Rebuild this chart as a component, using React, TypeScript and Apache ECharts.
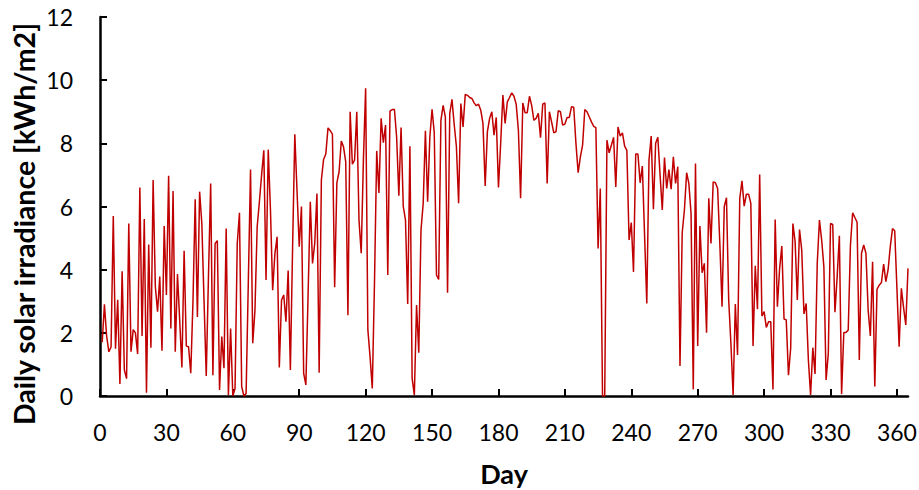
import React, { useEffect, useRef } from "react";
import * as echarts from "echarts";

const irradiance: number[] = [
  1.7, 2.9, 1.9, 1.4, 1.55, 5.7, 1.5, 3.05, 0.38, 3.95,
  0.82, 0.55, 5.46, 1.4, 2.1, 2.0, 1.33, 6.6, 1.9, 5.6,
  0.1, 4.8, 1.53, 6.84, 3.46, 2.67, 3.78, 1.43, 5.38, 3.2,
  6.97, 2.14, 6.49, 1.4, 3.86, 2.4, 0.9, 4.6, 1.58, 1.56,
  0.72, 3.0, 6.23, 2.5, 6.47, 5.46, 3.0, 0.63, 3.8, 6.73,
  0.66, 4.83, 4.92, 0.19, 1.88, 0.88, 5.3, 0.03, 2.14, 0.0,
  0.24, 4.83, 5.8, 0.3, 0.0, 0.08, 3.6, 7.17, 1.67, 2.72,
  5.36, 6.15, 7.0, 7.78, 3.67, 7.8, 5.9, 3.35, 4.5, 5.04,
  0.9, 3.04, 3.2, 2.35, 3.97, 0.82, 4.7, 8.29, 6.5, 4.73,
  6.0, 0.72, 0.35, 3.2, 6.15, 4.2, 4.83, 6.41, 0.74, 6.84,
  7.49, 7.66, 8.49, 8.4, 8.29, 3.44, 6.75, 7.1, 8.07, 7.89,
  7.42, 2.56, 9.0, 7.34, 7.47, 9.0, 5.57, 4.52, 7.5, 9.74,
  2.1, 1.24, 0.24, 3.6, 7.76, 6.43, 8.79, 8.02, 8.58, 3.83,
  9.02, 9.07, 9.07, 8.2, 6.34, 8.5, 6.0, 5.57, 2.91, 7.91,
  0.56, 0.03, 2.88, 1.37, 5.25, 6.1, 8.4, 6.15, 8.2, 9.08,
  8.33, 3.83, 3.69, 8.73, 9.2, 8.84, 3.27, 8.95, 9.39, 8.6,
  7.9, 6.1, 9.26, 8.52, 9.55, 9.52, 9.45, 9.42, 9.28, 9.19,
  9.24, 9.05, 8.63, 6.65, 8.37, 8.79, 9.0, 8.26, 8.82, 6.6,
  8.0, 9.53, 8.63, 9.31, 9.45, 9.6, 9.49, 9.24, 8.42, 6.26,
  9.28, 8.97, 8.97, 9.49, 9.2, 8.73, 8.79, 8.95, 8.18, 9.24,
  9.28, 6.73, 9.0, 8.68, 8.33, 8.37, 9.03, 9.0, 8.58, 8.61,
  8.82, 8.82, 9.16, 9.14, 8.0, 7.07, 7.57, 7.94, 9.07, 9.0,
  8.84, 8.68, 8.54, 8.5, 4.67, 6.57, 0.0, 0.0, 8.1, 7.7,
  7.94, 8.19, 6.62, 8.52, 8.23, 8.33, 7.91, 7.78, 4.94, 5.49,
  3.93, 7.66, 7.66, 6.75, 7.28, 5.1, 2.93, 7.47, 8.23, 5.91,
  8.0, 8.19, 7.0, 5.89, 7.55, 6.57, 7.17, 6.55, 7.57, 6.73,
  7.26, 0.95, 5.17, 5.89, 7.07, 6.73, 5.78, 0.21, 7.36, 1.58,
  5.38, 3.9, 4.2, 2.0, 6.26, 4.83, 6.78, 6.75, 6.57, 4.83,
  2.83, 6.0, 6.28, 3.04, 1.67, 0.03, 2.91, 1.3, 6.26, 6.81,
  6.01, 6.39, 6.39, 6.1, 1.58, 4.12, 2.75, 7.01, 2.53, 2.67,
  2.17, 2.35, 2.35, 0.21, 5.59, 2.83, 4.03, 4.75, 2.44, 2.41,
  0.66, 1.51, 5.46, 4.9, 3.04, 5.27, 4.62, 2.6, 2.93, 1.14,
  0.03, 1.53, 0.7, 4.2, 5.57, 4.94, 4.09, 0.51, 1.35, 5.46,
  5.43, 2.65, 3.78, 5.07, 0.06, 2.01, 2.01, 2.09, 4.78, 5.8,
  5.65, 5.5, 1.14, 4.52, 4.78, 4.52, 2.72, 1.9, 4.25, 0.3,
  3.38, 3.51, 3.59, 4.18, 3.62, 3.99, 4.73, 5.3, 5.23, 3.4,
  1.56, 3.41, 2.8, 2.25, 4.04,
];

const days: number[] = irradiance.map((_, i) => i + 1);

const xTitle = "Day";
const yTitle = "Daily solar irradiance [kWh/m2]";

export default function App() {
  const ref = useRef<HTMLDivElement>(null);
  useEffect(() => {
    if (!ref.current) return;
    const chart = echarts.init(ref.current, undefined, { renderer: "svg" });
    const font = "Lato, 'Liberation Sans', sans-serif";
    chart.setOption({
      animation: false,
      backgroundColor: "#ffffff",
      grid: {
        left: 100,
        top: 17,
        right: 11,
        bottom: 94,
        containLabel: false,
        outerBoundsMode: "none",
      },
      graphic: [
        {
          type: "text",
          x: 24,
          y: 224,
          rotation: Math.PI / 2,
          style: {
            text: yTitle,
            fontFamily: font,
            fontSize: 28.5,
            fontWeight: "bold",
            fill: "#000",
            textAlign: "center",
            textVerticalAlign: "middle",
          },
        },
      ],
      xAxis: {
        type: "value",
        min: 0,
        max: 365,
        interval: 30,
        name: xTitle,
        nameLocation: "middle",
        nameGap: 63,
        nameTextStyle: { fontFamily: font, fontSize: 27, fontWeight: "bold", color: "#000", lineHeight: 28 },
        axisLine: { show: true, lineStyle: { color: "#000", width: 2.5 } },
        axisTick: { show: true, inside: true, length: 7, lineStyle: { color: "#000", width: 2 } },
        axisLabel: { fontFamily: font, fontSize: 23, color: "#000", margin: 24, showMaxLabel: false },
        splitLine: { show: false },
      },
      yAxis: {
        type: "value",
        min: 0,
        max: 12,
        interval: 2,
        axisLine: { show: true, lineStyle: { color: "#000", width: 2.5 } },
        axisTick: { show: true, inside: true, length: 7, lineStyle: { color: "#000", width: 2 } },
        axisLabel: { fontFamily: font, fontSize: 23, color: "#000", margin: 27 },
        splitLine: { show: false },
      },
      series: [
        {
          type: "line",
          data: days.map((d, i) => [d, irradiance[i]]),
          showSymbol: false,
          symbol: "none",
          lineStyle: { color: "#C00000", width: 1.5 },
        },
      ],
    });
    return () => chart.dispose();
  }, []);
  return (
    <div
      ref={ref}
      style={{ position: "fixed", left: 0, top: 0, width: 919, height: 490 }}
    />
  );
}
